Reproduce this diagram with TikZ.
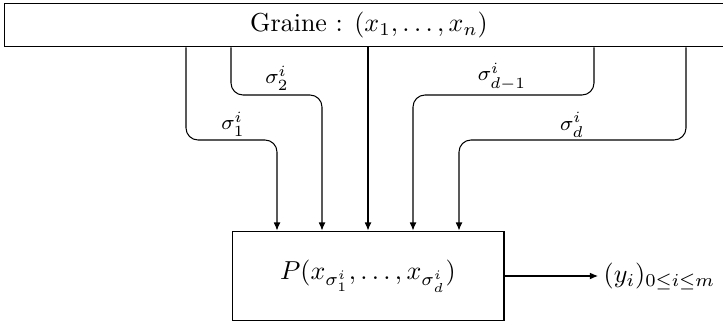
\documentclass[tikz,border=0pt]{standalone}
\usetikzlibrary{arrows.meta}
\begin{document}
\begin{tikzpicture}[x=0.385pt,y=-0.385pt,
  arr/.style={-{Latex[length=3.1pt,width=2.6pt]}, rounded corners=4.6pt},
  lbl/.style={font=\footnotesize, inner sep=0pt}]
\clip (0,0) rectangle (723,326);
\node[draw, minimum width=280.3pt, minimum height=16.9pt, inner sep=0pt] (seed) at (369,25) {Graine : $(x_1,\ldots,x_n)$};
\node[draw, minimum width=104.7pt, minimum height=34.6pt, inner sep=0pt] (P) at (368,276) {$P(x_{\sigma^i_1},\ldots,x_{\sigma^i_d})$};
\node[anchor=west, inner sep=2pt] (out) at (598,276) {$(y_i)_{0\leq i\leq m}$};
\coordinate (c1) at (186,0);
\coordinate (c2) at (231,0);
\coordinate (c3) at (368,0);
\coordinate (c4) at (594,0);
\coordinate (c5) at (686,0);
\coordinate (k1) at (277,140);
\coordinate (k2) at (322,95);
\coordinate (k4) at (413,95);
\coordinate (k5) at (459,140);
\draw[arr] (seed.south -| c1) |- (k1) -- (P.north -| k1);
\draw[arr] (seed.south -| c2) |- (k2) -- (P.north -| k2);
\draw[arr] (seed.south -| c3) -- (P.north -| c3);
\draw[arr] (seed.south -| c4) |- (k4) -- (P.north -| k4);
\draw[arr] (seed.south -| c5) |- (k5) -- (P.north -| k5);
\draw[arr] (P) -- (out);
\node[lbl] (l1) at (233,124) {$\sigma^i_1$};
\node[lbl] (l2) at (277,78) {$\sigma^i_2$};
\node[lbl] (l4) at (502,77) {$\sigma^i_{d-1}$};
\node[lbl] (l5) at (572,125) {$\sigma^i_d$};
\end{tikzpicture}
\end{document}
